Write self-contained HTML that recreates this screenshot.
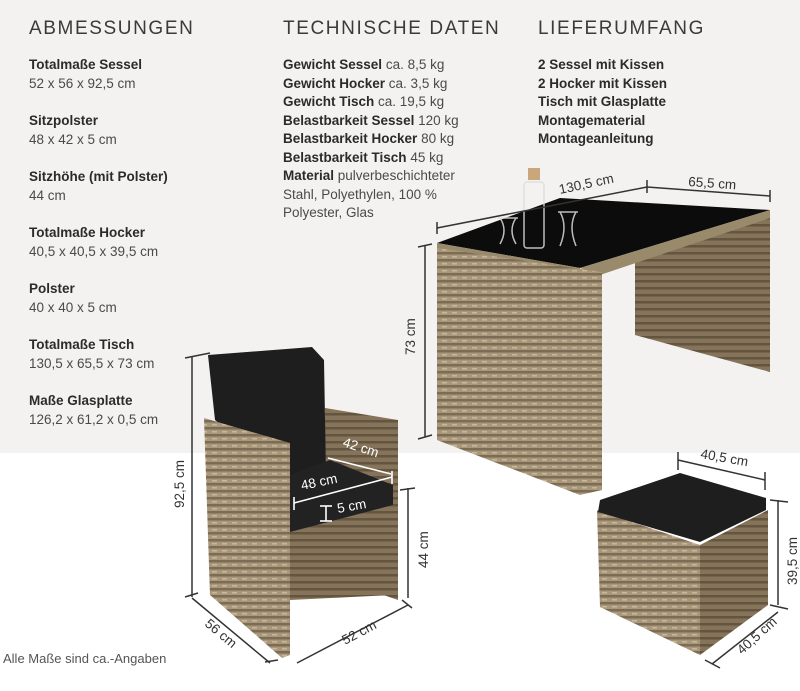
<!DOCTYPE html>
<html><head><meta charset="utf-8"><style>
body{margin:0;width:800px;height:691px;position:relative;background:#fff;font-family:"Liberation Sans",sans-serif;color:#333;overflow:hidden}
#bg{position:absolute;left:0;top:0;width:800px;height:453px;background:#f3f2f0}
.h{position:absolute;top:18px;font-size:19px;letter-spacing:1.6px;color:#3a3a3a;font-weight:normal}
.t{position:absolute;font-size:13.5px;line-height:18.5px;color:#4a4a4a}
.t b{color:#2b2b2b}
.blk{margin:0 0 19px 0}
svg{position:absolute;left:0;top:0}
</style></head><body>
<div id="bg"></div>
<div class="h" style="left:29px">ABMESSUNGEN</div>
<div class="h" style="left:283px">TECHNISCHE DATEN</div>
<div class="h" style="left:538px">LIEFERUMFANG</div>
<div class="t" style="left:29px;top:56px">
<div class="blk"><b>Totalmaße Sessel</b><br>52 x 56 x 92,5 cm</div>
<div class="blk"><b>Sitzpolster</b><br>48 x 42 x 5 cm</div>
<div class="blk"><b>Sitzhöhe (mit Polster)</b><br>44 cm</div>
<div class="blk"><b>Totalmaße Hocker</b><br>40,5 x 40,5 x 39,5 cm</div>
<div class="blk"><b>Polster</b><br>40 x 40 x 5 cm</div>
<div class="blk"><b>Totalmaße Tisch</b><br>130,5 x 65,5 x 73 cm</div>
<div class="blk"><b>Maße Glasplatte</b><br>126,2 x 61,2 x 0,5 cm</div>
</div>
<div class="t" style="left:283px;top:56px;width:210px">
<b>Gewicht Sessel</b> ca. 8,5 kg<br><b>Gewicht Hocker</b> ca. 3,5 kg<br><b>Gewicht Tisch</b> ca. 19,5 kg<br><b>Belastbarkeit Sessel</b> 120 kg<br><b>Belastbarkeit Hocker</b> 80 kg<br><b>Belastbarkeit Tisch</b> 45 kg<br><b>Material</b> pulverbeschichteter Stahl, Polyethylen, 100 % Polyester, Glas
</div>
<div class="t" style="left:538px;top:56px"><b>2 Sessel mit Kissen<br>2 Hocker mit Kissen<br>Tisch mit Glasplatte<br>Montagematerial<br>Montageanleitung</b></div>
<div class="t" style="left:3px;top:650px;font-size:13px;color:#555">Alle Maße sind ca.-Angaben</div>

<svg width="800" height="691" viewBox="0 0 800 691">
<defs>
<pattern id="w" width="10" height="7" patternUnits="userSpaceOnUse">
<rect width="10" height="7" fill="#a8977a"/><rect y="0" width="10" height="2.5" fill="#7d6c55"/><rect x="2" y="4" width="5" height="1.5" fill="#c8b896"/>
</pattern>
<pattern id="wd" width="10" height="7" patternUnits="userSpaceOnUse">
<rect width="10" height="7" fill="#857459"/><rect width="10" height="2.5" fill="#645540"/>
</pattern>
</defs>
<!-- table -->
<polygon points="635,256 770,214 770,372 635,335" fill="url(#wd)"/>
<polygon points="437,243 560,198 770,210 580,268" fill="#0c0c0c"/>
<polygon points="437,243 580,268 580,275 437,250" fill="#9a8a6c"/>
<polygon points="580,268 770,210 770,218 600,275" fill="#9a8a6c"/>
<polygon points="437,248 602,272 602,490 580,495 437,440" fill="url(#w)"/>
<g fill="none" stroke="#ddd" stroke-width="1.5" opacity=".85">
<path d="M498,218 h20 M500,218 q8,12 0,26 M516,218 q-8,12 0,26"/>
<rect x="524" y="182" width="20" height="66" rx="3"/>
<path d="M558,212 h20 M560,212 q8,14 0,34 M576,212 q-8,14 0,34"/>
</g>
<rect x="528" y="168" width="12" height="12" fill="#c9a77a"/>
<g stroke="#333" stroke-width="1.5" fill="none">
<line x1="437" y1="228" x2="647" y2="187"/><line x1="437" y1="222" x2="437" y2="234"/><line x1="647" y1="180" x2="647" y2="193"/>
<line x1="647" y1="187" x2="770" y2="196"/><line x1="770" y1="190" x2="770" y2="202"/>
<line x1="425" y1="246" x2="425" y2="437"/><line x1="418" y1="247" x2="432" y2="244"/><line x1="418" y1="439" x2="432" y2="435"/>
</g>
<g font-size="13.5" fill="#333">
<text x="560" y="194" transform="rotate(-12 560 194)">130,5 cm</text>
<text x="688" y="186" transform="rotate(4 688 186)">65,5 cm</text>
<text x="415" y="355" transform="rotate(-90 415 355)">73 cm</text>
</g>
<!-- chair -->
<polygon points="325,408 398,420 398,600 325,575" fill="url(#wd)"/>
<polygon points="208,355 312,347 324,360 326,475 290,480 215,420" fill="#1e1e1e"/>
<polygon points="290,475 330,460 393,485 393,505 290,535" fill="#222"/>
<polygon points="290,532 393,505 393,595 290,600" fill="url(#wd)"/>
<polygon points="204,418 290,443 290,655 282,658 210,595" fill="url(#w)"/>
<g stroke="#fff" stroke-width="1.6" fill="none">
<line x1="294" y1="503" x2="392" y2="477"/><line x1="294" y1="497" x2="294" y2="510"/><line x1="392" y1="471" x2="392" y2="484"/>
<line x1="328" y1="458" x2="391" y2="474"/>
<line x1="326" y1="506" x2="326" y2="521"/><line x1="320" y1="506" x2="332" y2="506"/><line x1="320" y1="521" x2="332" y2="521"/>
</g>
<g font-size="13.5" fill="#fff">
<text x="302" y="490" transform="rotate(-12 302 490)">48 cm</text>
<text x="342" y="446" transform="rotate(18 342 446)">42 cm</text>
<text x="338" y="513" transform="rotate(-10 338 513)">5 cm</text>
</g>
<g stroke="#333" stroke-width="1.5" fill="none">
<line x1="192" y1="357" x2="192" y2="597"/><line x1="185" y1="358" x2="210" y2="353"/><line x1="185" y1="597" x2="198" y2="593"/>
<line x1="192" y1="598" x2="270" y2="663"/><line x1="265" y1="662" x2="278" y2="660"/>
<line x1="297" y1="663" x2="408" y2="605"/><line x1="402" y1="600" x2="412" y2="608"/>
<line x1="408" y1="488" x2="408" y2="598"/><line x1="400" y1="490" x2="415" y2="488"/>
</g>
<g font-size="13.5" fill="#333">
<text x="184" y="508" transform="rotate(-90 184 508)">92,5 cm</text>
<text x="204" y="625" transform="rotate(40 204 625)">56 cm</text>
<text x="345" y="645" transform="rotate(-28 345 645)">52 cm</text>
<text x="428" y="568" transform="rotate(-90 428 568)">44 cm</text>
</g>
<!-- hocker -->
<polygon points="597,510 700,545 700,655 600,607" fill="url(#w)"/>
<polygon points="700,545 768,510 768,605 700,655" fill="url(#wd)"/>
<polygon points="600,500 680,473 766,498 766,510 700,542 598,512" fill="#1e1e1e"/>
<g stroke="#333" stroke-width="1.5" fill="none">
<line x1="678" y1="460" x2="765" y2="480"/><line x1="678" y1="452" x2="678" y2="470"/><line x1="765" y1="472" x2="765" y2="490"/>
<line x1="778" y1="500" x2="778" y2="605"/><line x1="770" y1="500" x2="788" y2="502"/><line x1="770" y1="605" x2="788" y2="609"/>
<line x1="712" y1="664" x2="778" y2="612"/><line x1="705" y1="660" x2="720" y2="668"/>
</g>
<g font-size="13.5" fill="#333">
<text x="700" y="458" transform="rotate(10 700 458)">40,5 cm</text>
<text x="797" y="585" transform="rotate(-90 797 585)">39,5 cm</text>
<text x="742" y="655" transform="rotate(-42 742 655)">40,5 cm</text>
</g>
</svg>
</body></html>
